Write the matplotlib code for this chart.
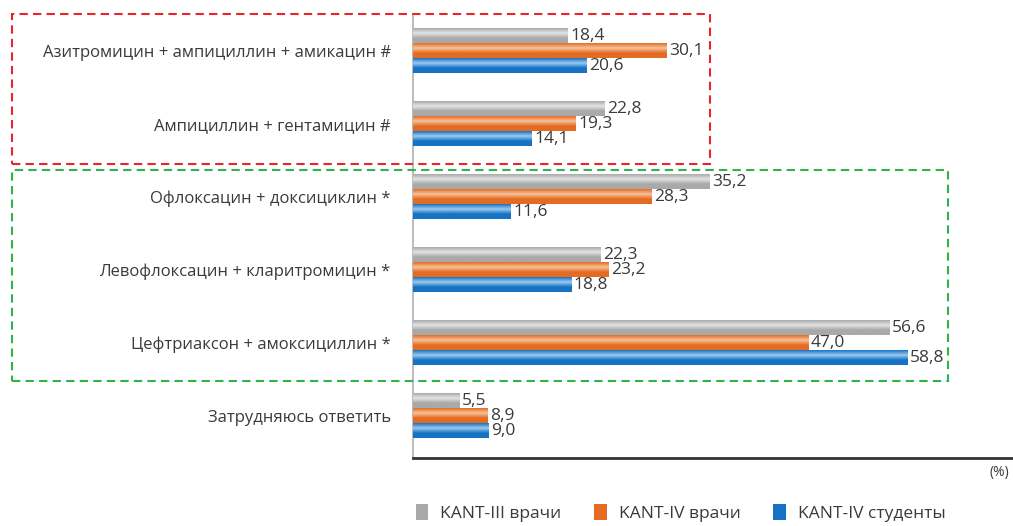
import numpy as np
import matplotlib.pyplot as plt
from matplotlib.patches import Rectangle, Patch
from matplotlib.colors import LinearSegmentedColormap

plt.rcParams['font.family'] = ['Open Sans', 'DejaVu Sans']

categories = [
    'Азитромицин + ампициллин + амикацин #',
    'Ампициллин + гентамицин #',
    'Офлоксацин + доксициклин *',
    'Левофлоксацин + кларитромицин *',
    'Цефтриаксон + амоксициллин *',
    'Затрудняюсь ответить',
]
series = ['KANT-III врачи', 'KANT-IV врачи', 'KANT-IV студенты']
kant3_doctors = [18.4, 22.8, 35.2, 22.3, 56.6, 5.5]
kant4_doctors = [30.1, 19.3, 28.3, 23.2, 47.0, 8.9]
kant4_students = [20.6, 14.1, 11.6, 18.8, 58.8, 9.0]

# (edge, light middle) colours for the glossy bars
palette = [('#a9a9a9', '#e4e4e4'), ('#e46c22', '#f8c29a'), ('#1673c4', '#9cc9ef')]


def fmt(v):
    return f'{v:.1f}'.replace('.', ',')


def glossy(ax, bar, dark, light):
    x0, y0 = bar.get_x(), bar.get_y()
    w, h = bar.get_width(), bar.get_height()
    cmap = LinearSegmentedColormap.from_list('g', [dark, light, dark, dark])
    grad = np.linspace(0, 1, 64).reshape(-1, 1)
    ax.imshow(grad, cmap=cmap, aspect='auto', extent=(x0, x0 + w, y0 + h, y0),
              interpolation='bilinear', zorder=3)
    bar.set_alpha(0)


fig = plt.figure(figsize=(10.13, 5.26), dpi=100)
ax = fig.add_axes([0.4077, 0.1293, 0.5923, 0.844])

y = np.arange(len(categories))
h = 0.2
offs = [-0.205, 0.0, 0.205]
for vals, off, (dark, light) in zip([kant3_doctors, kant4_doctors, kant4_students], offs, palette):
    bars = ax.barh(y + off, vals, height=h, color=dark, zorder=2)
    for b, v in zip(bars, vals):
        glossy(ax, b, dark, light)
        ax.text(v + 0.3, b.get_y() + h / 2, fmt(v), va='center', ha='left',
                fontsize=12.5, color='#3a3a3a', zorder=5)

ax.set_xlim(0, 71.3)
ax.set_ylim(5.578, -0.504)
ax.set_yticks(y)
ax.set_yticklabels(categories, fontsize=12, color='#3a3a3a')
ax.tick_params(axis='y', length=0, pad=16)
ax.set_xticks([])
for s in ['top', 'right']:
    ax.spines[s].set_visible(False)
ax.spines['left'].set_color('#b0b0b0')
ax.spines['left'].set_linewidth(1.2)
ax.spines['bottom'].set_color('#333333')
ax.spines['bottom'].set_linewidth(2)

fig.text(0.987, 0.102, '(%)', fontsize=10, color='#3a3a3a', ha='center', va='center')

# dashed frames around the groups of answers
W, H = 1013, 526
fig.patches.append(Rectangle((12 / W, 1 - 164 / H), 698 / W, 150 / H, transform=fig.transFigure,
                             fill=False, edgecolor='#e8242c', lw=1.5, ls=(0, (4, 2.5))))
fig.patches.append(Rectangle((12 / W, 1 - 381 / H), 936 / W, 211 / H, transform=fig.transFigure,
                             fill=False, edgecolor='#2fb44a', lw=1.5, ls=(0, (4, 2.5))))

handles = [Patch(facecolor=d, edgecolor='none') for d, _ in palette]
fig.legend(handles, series, loc='center', bbox_to_anchor=(0.672, 0.025), ncol=3,
           frameon=False, fontsize=12.5, handlelength=0.7, handleheight=1.1,
           columnspacing=1.9, handletextpad=0.7, labelcolor='#3a3a3a')

fig.savefig('out.png', dpi=100)
